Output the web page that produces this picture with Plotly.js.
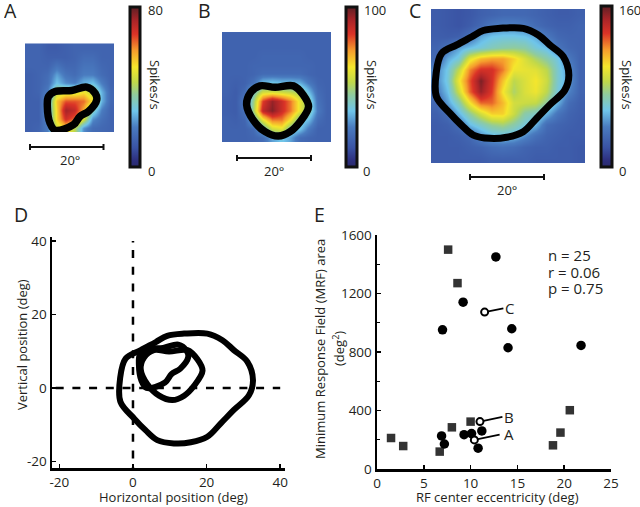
<!DOCTYPE html>
<html><head><meta charset="utf-8">
<script src="https://cdn.plot.ly/plotly-3.0.1.min.js"></script>
<style>html,body{margin:0;padding:0;background:#fff}#g{width:640px;height:507px}</style>
</head><body><div id="g"></div>
<script>
// ---------- data ----------
const heatA = [
[14,14,12,12,13,14,14,14,14,14],
[14,14,13,13,13,14,16,16,14,14],
[14,14,14,18,15,15,18,18,15,14],
[13,14,16,24,18,16,20,20,16,14],
[13,14,17,28,22,20,26,28,20,14],
[13,14,20,42,46,46,50,42,26,15],
[13,13,24,54,64,64,62,50,26,15],
[13,13,24,52,74,70,56,34,20,14],
[13,13,22,52,68,62,46,22,17,14],
[13,14,20,44,52,42,22,16,15,14]];
const heatB = [
[17,17,17,17,17,17,17,17,17,17,17,17],
[17,17,17,17,17,17,17,17,17,17,17,17],
[17,17,17,17,18,18,18,18,18,17,17,17],
[17,17,17,18,18,18,18,18,18,18,17,17],
[17,17,17,18,20,20,20,20,20,18,17,17],
[17,16,17,22,34,36,34,34,32,24,18,17],
[17,15,20,40,55,56,54,52,48,34,20,17],
[16,15,24,48,82,94,86,76,60,44,22,17],
[16,15,22,50,88,96,86,76,60,44,24,17],
[17,16,18,36,60,76,76,62,40,34,20,17],
[17,17,17,20,36,56,60,40,36,24,17,17],
[17,17,17,18,20,30,36,30,20,18,17,17]];
const heatC = [
[24,22,20,22,26,28,30,30,30,28,26,24,24,26],
[24,22,20,24,30,38,42,42,38,32,28,26,26,28],
[25,24,26,34,50,56,58,58,56,50,38,30,28,28],
[28,35,48,55,60,66,70,72,70,60,54,36,30,28],
[30,50,60,95,110,115,115,105,92,80,70,58,38,28],
[42,58,85,120,135,135,122,98,96,94,84,62,45,28],
[42,60,98,128,155,135,108,84,92,100,88,62,48,28],
[38,55,88,125,150,132,100,80,92,98,84,60,42,28],
[30,48,68,100,125,125,110,90,88,86,72,52,32,26],
[26,32,52,72,90,105,105,88,70,64,52,36,28,25],
[24,26,32,54,64,74,78,70,60,52,32,28,26,24],
[24,24,26,30,44,54,56,54,44,34,28,26,24,24],
[24,24,24,26,28,32,34,32,28,26,26,24,24,22],
[24,24,24,24,24,26,26,26,26,24,24,24,24,22]];

const contourAx = [1.9,3.7,8.2,12.3,14.6,15.0,12.8,10.5,8.7,3.7,2.3,1.6,1.9];
const contourAy = [9.2,10.6,10.9,11.8,10.1,8.3,5.2,3.8,1.5,0,2.0,6.5,9.2];
const contourBx = [5.7,9.8,14.8,17.5,18.9,16.6,13.9,10.7,7.1,3.9,2.1,3.0,5.7];
const contourBy = [10.3,9.9,10.3,7.8,4.7,0.6,-2.1,-3.3,-2.1,1.0,5.1,8.3,10.3];
const contourCx = [13.9,20.2,24.3,27.4,31.1,32.6,31.5,27.4,23.8,20.2,15.7,11.1,6.6,3.4,0.3,-3.4,-3.5,-2.0,2.1,6.2,9.3,13.9];
const contourCy = [14.8,14.8,13.0,10.3,7.1,2.1,-2.0,-6.0,-9.7,-13.3,-14.8,-15.1,-14.2,-11.5,-8.3,-3.8,2.6,8.0,10.3,12.5,14.2,14.8];

const squareX = [7.6,8.6,10,8,1.5,2.8,6.7,18.8,19.6,20.6];
const squareY = [1500,1271,324,285,212,157,119,162,249,402];
const circleX = [12.7,9.2,7,14.4,14,21.8,6.9,7.2,9.3,10.1,11.2,10.8];
const circleY = [1450,1141,952,959,829,845,226,171,235,242,260,142];
const openX = [11.5,11,10.4];
const openY = [1073,324,199];
const openTipX = [13.5,13.4,13.1];
const openTipY = [1098,356,235];
const openNames = ['C','B','A'];
const stats = ['n = 25','r = 0.06','p = 0.75'];

const jet = [[0,'#2a2a6c'],[0.04,'#2d2f7e'],[0.12,'#3a53a4'],[0.25,'#4a7cc0'],[0.35,'#6fc5ea'],[0.45,'#8fcb9f'],[0.53,'#c0d84a'],[0.625,'#f5e62c'],[0.73,'#f59b2d'],[0.83,'#db3327'],[0.92,'#a82428'],[1,'#5e1f24']];
const W=640,H=507;
const FONT='"Open Sans", sans-serif', TXT='#231f20';
const px=v=>v/W, py=v=>1-v/H;

function heat(z,zmax,xa,ya,x0,dx,y0,dy,cbx,cbw,cby0,cby1){
  return {type:'heatmap',z,x0,dx,y0,dy,xaxis:xa,yaxis:ya,zmin:0,zmax,zsmooth:'best',colorscale:jet,hoverinfo:'skip',
    colorbar:{x:px(cbx),xanchor:'left',y:py(cby0),yanchor:'top',thicknessmode:'pixels',thickness:cbw,lenmode:'pixels',len:cby1-cby0,
      xpad:0,ypad:0,outlinewidth:3,outlinecolor:'#111',ticks:'',showticklabels:false}};
}
function contour(x,y,xa,ya,w){
  return {type:'scatter',mode:'lines',x,y,xaxis:xa,yaxis:ya,cliponaxis:false,hoverinfo:'skip',showlegend:false,
    line:{color:'#000',width:w,shape:'spline',smoothing:1}};
}
const DASH='8px,8.7px';
const traces=[
  heat(heatA,80,'x','y',-3.25,2.43,22.55,-2.43,130,10,7,167),
  heat(heatB,100,'x2','y2',-3.37,2.47,23.65,-2.49,345.5,10.5,7,167),
  heat(heatC,160,'x3','y3',-3.4,3,18.55,-3,600.5,11,6,167),
  contour(contourAx,contourAy,'x','y',7.5),
  contour(contourBx,contourBy,'x2','y2',7.5),
  contour(contourCx,contourCy,'x3','y3',7),
  {type:'scatter',mode:'lines',x:[0,0],y:[40,-21.8],xaxis:'x4',yaxis:'y4',line:{color:'#000',width:2.5,dash:'1.5px,7.5px,'+Array(14).fill(DASH).join(',')},hoverinfo:'skip',showlegend:false},
  {type:'scatter',mode:'lines',x:[-21,40],y:[0,0],xaxis:'x4',yaxis:'y4',line:{color:'#000',width:2.5,dash:DASH},hoverinfo:'skip',showlegend:false},
  contour(contourAx,contourAy,'x4','y4',6),
  contour(contourBx,contourBy,'x4','y4',6),
  contour(contourCx,contourCy,'x4','y4',6),
  {type:'scatter',mode:'markers',x:squareX,y:squareY,xaxis:'x5',yaxis:'y5',marker:{symbol:'square',size:8.5,color:'#333'},hoverinfo:'skip',showlegend:false},
  {type:'scatter',mode:'markers',x:circleX,y:circleY,xaxis:'x5',yaxis:'y5',marker:{symbol:'circle',size:9.5,color:'#000'},hoverinfo:'skip',showlegend:false}
];
openX.forEach((x,i)=>traces.push({type:'scatter',mode:'lines',x:[x,openTipX[i]],y:[openY[i],openTipY[i]],xaxis:'x5',yaxis:'y5',line:{color:'#000',width:1.8},hoverinfo:'skip',showlegend:false}));
traces.push({type:'scatter',mode:'markers',x:openX,y:openY,xaxis:'x5',yaxis:'y5',marker:{symbol:'circle',size:7,color:'#fff',line:{color:'#000',width:2}},hoverinfo:'skip',showlegend:false});

function hidden(dom,range,anchor){
  return {domain:dom,range,visible:false,anchor,fixedrange:true};
}
const tf={family:FONT,size:13.5,color:TXT};
function axis(dom,range,anchor,ticks,minor){
  const a={domain:dom,range,anchor,showgrid:false,zeroline:false,showline:true,linecolor:'#000',linewidth:2.5,
    ticks:'inside',ticklen:4,tickwidth:1.5,tickcolor:'#000',tickmode:'array',tickvals:ticks,ticktext:ticks.map(String),tickfont:tf,automargin:false};
  if(minor)a.minor={tickvals:minor,ticks:'inside',ticklen:3,tickwidth:1.2,tickcolor:'#000',showgrid:false};
  return a;
}
const ann=(t,x,y,size,opt={})=>Object.assign({text:t,xref:'paper',yref:'paper',x:px(x),y:py(y),showarrow:false,font:{family:FONT,size,color:TXT},xanchor:'center',yanchor:'middle'},opt);
const panel=(t,x,y)=>ann(t,x,y,19.5,{height:16});
const annotations=[
  panel('A',10,10),panel('B',204,10),panel('C',415,10),panel('D',21,214),panel('E',319,214),
  ann('20°',70,160,13),ann('20°',274,171,13),ann('20°',507,190,13),
  ann('80',146,10,13,{xanchor:'left'}),ann('0',146,171,13,{xanchor:'left'}),
  ann('100',362,10,13,{xanchor:'left'}),ann('0',361,171,13,{xanchor:'left'}),
  ann('160',617,10,13,{xanchor:'left'}),ann('0',617,171,13,{xanchor:'left'}),
  ann('Spikes/s',155,85,13,{textangle:90}),ann('Spikes/s',372,85,13,{textangle:90}),ann('Spikes/s',627,85,13,{textangle:90}),
  ann('Horizontal position (deg)',173,497,13),
  ann('Vertical position (deg)',22,345,13,{textangle:-90}),
  ann('RF center eccentricity (deg)',497,497,13),
  ann('Minimum Response Field (MRF) area',320,349,13,{textangle:-90}),
  ann('(deg<sup>2</sup>)',338,349,13,{textangle:-90}),
  ann(stats[0],546,255,15,{xanchor:'left'}),ann(stats[1],546,272,15,{xanchor:'left'}),ann(stats[2],546,288,15,{xanchor:'left'}),
  ann(openNames[0],509,308,15),ann(openNames[1],509,417,15),ann(openNames[2],509,434,15)
];
function bar(x0,x1,y){
  return [{type:'line',xref:'paper',yref:'paper',x0:px(x0),x1:px(x1),y0:py(y),y1:py(y),line:{color:'#111',width:2}},
          {type:'line',xref:'paper',yref:'paper',x0:px(x0),x1:px(x0),y0:py(y-3),y1:py(y+3),line:{color:'#111',width:2}},
          {type:'line',xref:'paper',yref:'paper',x0:px(x1),x1:px(x1),y0:py(y-3),y1:py(y+3),line:{color:'#111',width:2}}];
}
const layout={width:W,height:H,margin:{l:0,r:0,t:0,b:0},paper_bgcolor:'#fff',plot_bgcolor:'rgba(0,0,0,0)',showlegend:false,
  xaxis:hidden([px(24.5),px(114)],[-4.6,19.7],'y'),
  yaxis:hidden([py(132),py(43)],[-0.5,23.9],'x'),
  xaxis2:hidden([px(222),px(331)],[-4.6,25],'y2'),
  yaxis2:hidden([py(142),py(32)],[-4.9,24.9],'x2'),
  xaxis3:hidden([px(431),px(585)],[-4.9,37],'y3'),
  yaxis3:hidden([py(163),py(9)],[-21.8,20.05],'x3'),
  xaxis4:axis([px(52),px(285)],[-22,41.3],'y4',[-20,0,20,40]),
  yaxis4:axis([py(468),py(237)],[-21.8,41.1],'x4',[-20,0,20,40]),
  xaxis5:axis([px(377),px(611)],[0,25],'y5',[0,5,10,15,20,25]),
  yaxis5:axis([py(469),py(235)],[0,1600],'x5',[0,400,800,1200,1600],[200,600,1000,1400]),
  annotations,
  shapes:[...bar(30,103.5,147),...bar(237,311,158),...bar(470,544,177)]
};
Plotly.newPlot('g',traces,layout,{displayModeBar:false,staticPlot:true});
</script></body></html>
